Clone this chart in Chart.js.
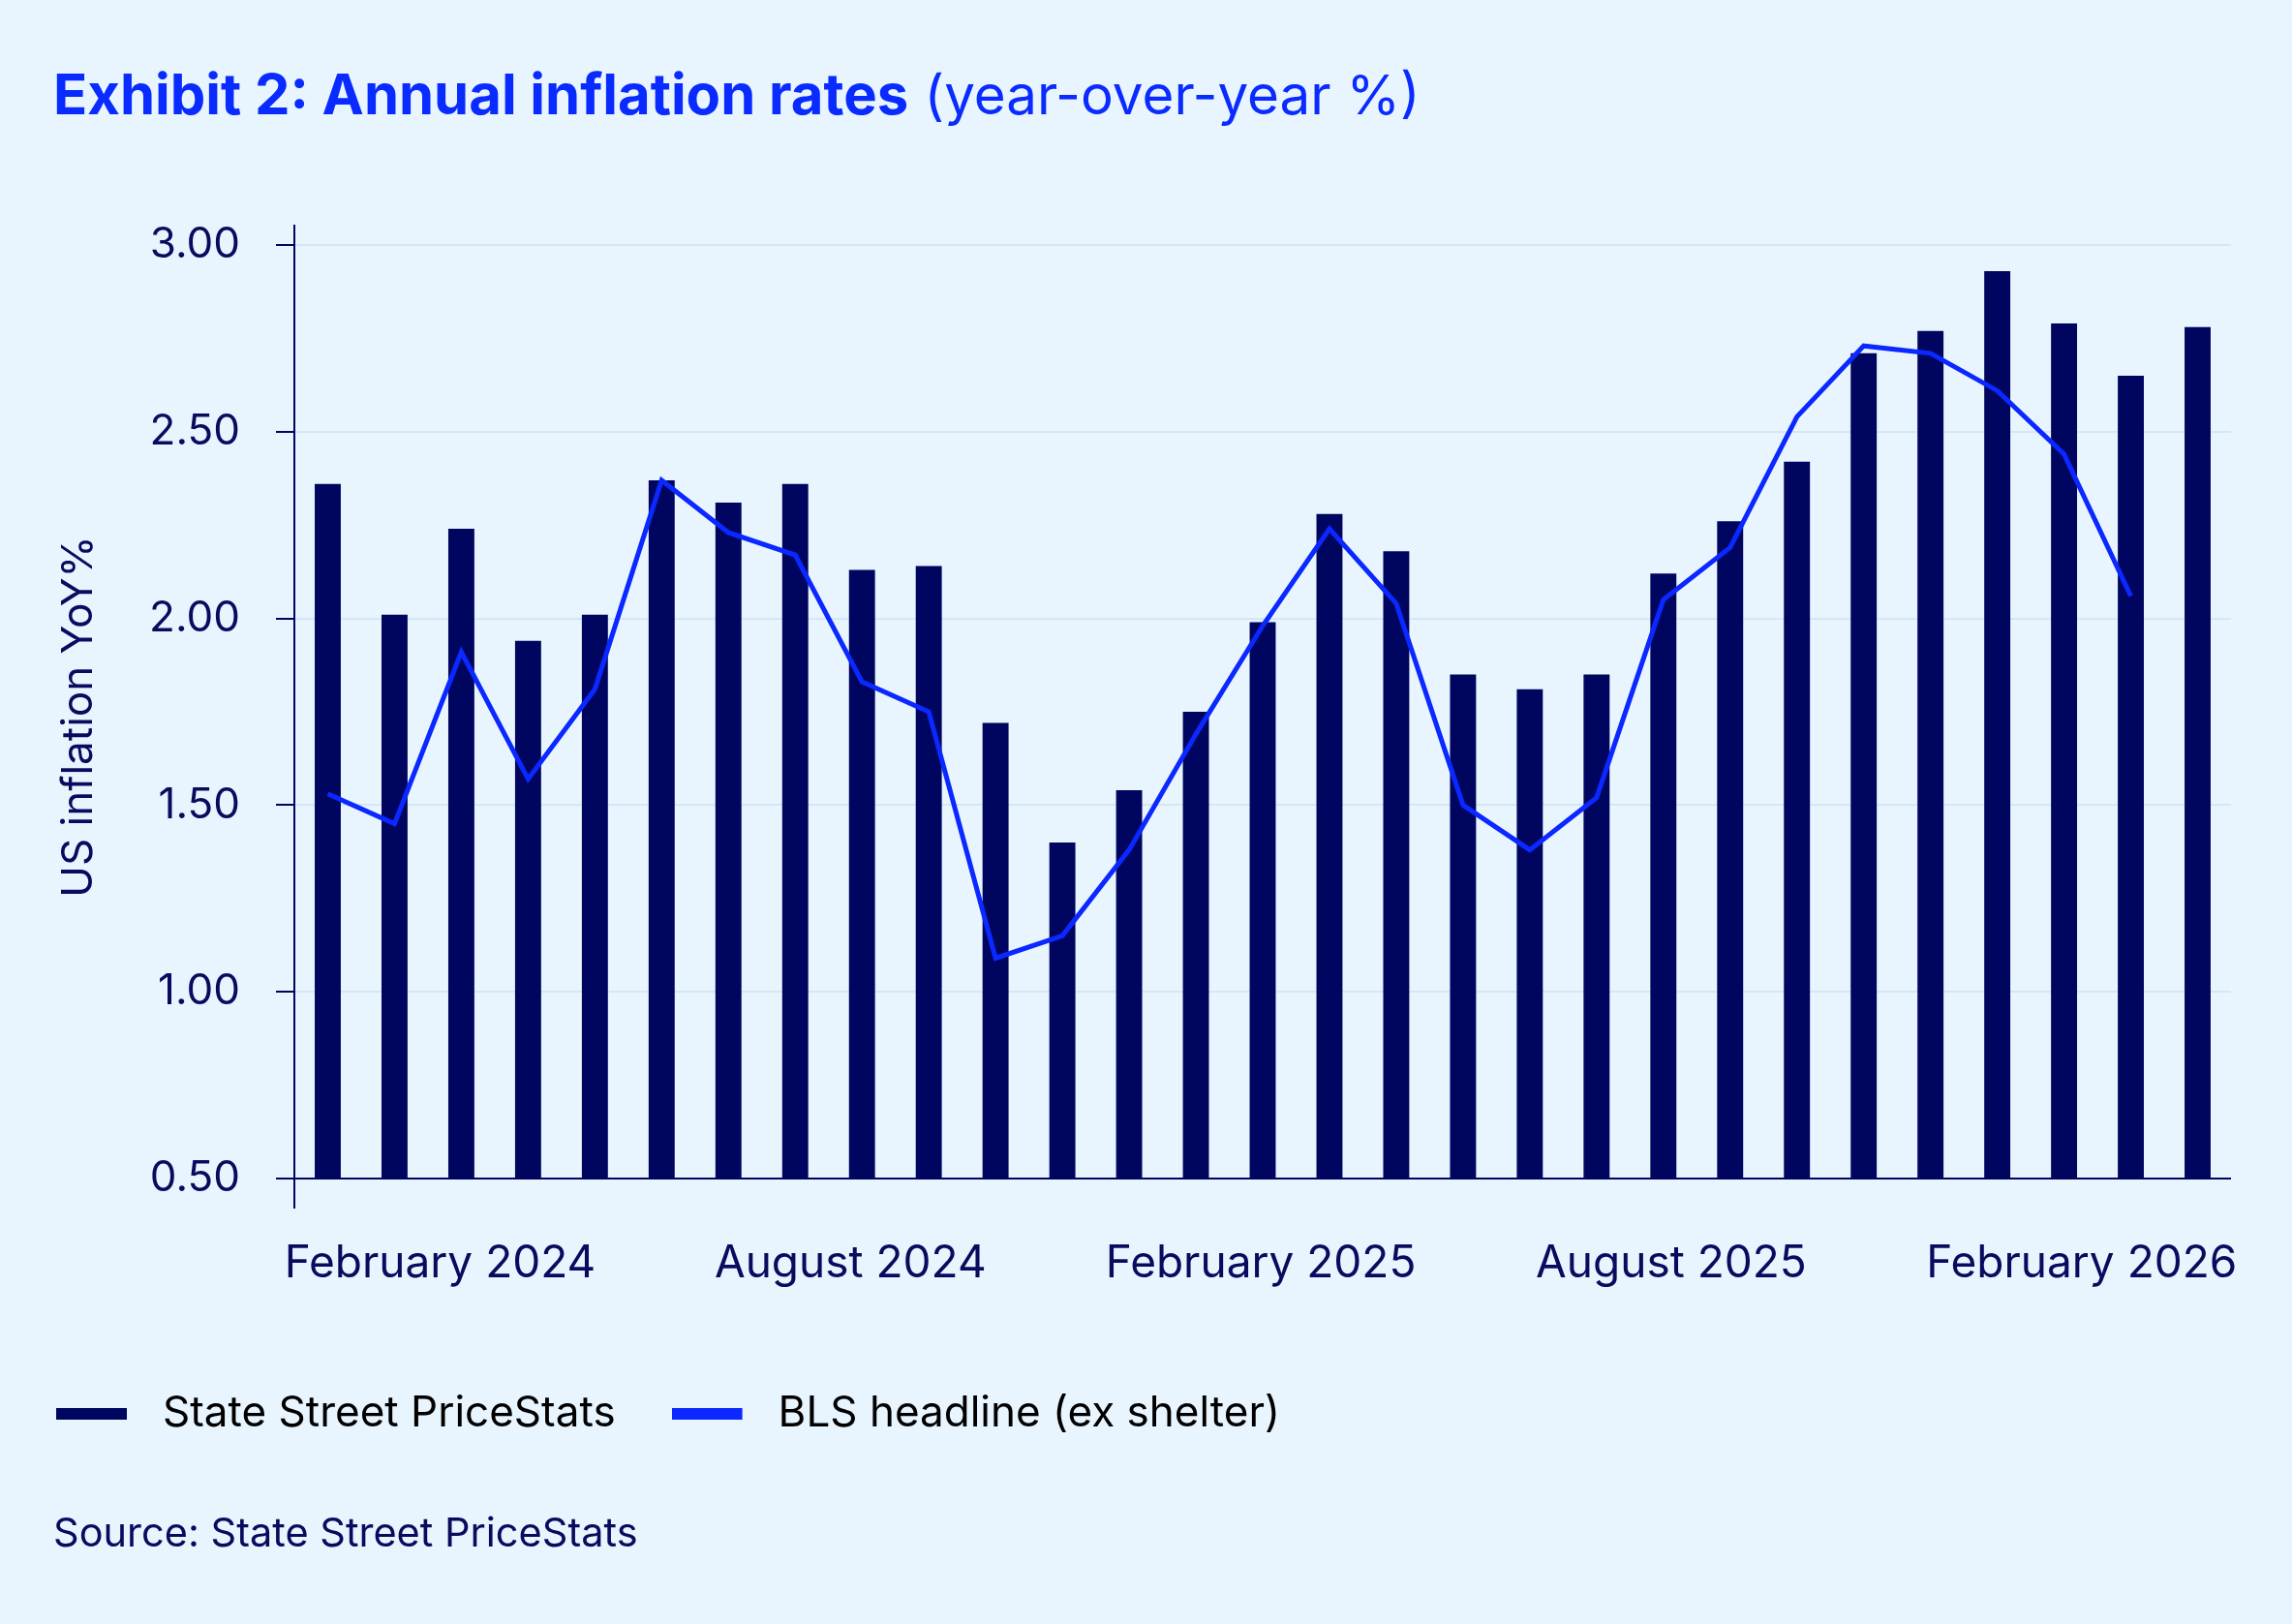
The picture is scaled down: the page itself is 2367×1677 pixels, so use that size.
<!DOCTYPE html>
<html>
<head>
<meta charset="utf-8">
<script src="https://cdn.jsdelivr.net/npm/chart.js@4.4.1/dist/chart.umd.min.js"></script>
<style>
  html, body { margin: 0; padding: 0; background: #e9f5fe; }
  #page { position: relative; width: 2367px; height: 1677px; overflow: hidden; font-family: Inter, sans-serif; }
  #chart { position: absolute; left: 0; top: 0; }
  .title { position: absolute; left: 55px; top: 68px; font-size: 58px; line-height: 1; color: #0a2bff; white-space: nowrap; }
  .title b { font-weight: 700; }
  .title span { font-size: 56.5px; }
  .source { position: absolute; left: 55px; top: 1562px; font-size: 41.5px; line-height: 1; color: #0a0a5e; white-space: nowrap; }
</style>
</head>
<body>
<div id="page">
  <canvas id="chart" width="2367" height="1677"></canvas>
  <div class="title"><b>Exhibit 2: Annual inflation rates</b> <span>(year-over-year %)</span></div>
  <div class="source">Source: State Street PriceStats</div>
</div>
<script>
// months from December 2023 to April 2026
var months = [
  "December 2023", "January 2024", "February 2024", "March 2024", "April 2024",
  "May 2024", "June 2024", "July 2024", "August 2024", "September 2024",
  "October 2024", "November 2024", "December 2024", "January 2025", "February 2025",
  "March 2025", "April 2025", "May 2025", "June 2025", "July 2025",
  "August 2025", "September 2025", "October 2025", "November 2025", "December 2025",
  "January 2026", "February 2026", "March 2026", "April 2026"
];

// State Street PriceStats (bars)
var pricestats = [
  2.36, 2.01, 2.24, 1.94, 2.01, 2.37, 2.31, 2.36, 2.13, 2.14,
  1.72, 1.40, 1.54, 1.75, 1.99, 2.28, 2.18, 1.85, 1.81, 1.85,
  2.12, 2.26, 2.42, 2.71, 2.77, 2.93, 2.79, 2.65, 2.78
];

// BLS headline ex shelter (line), no value yet for the last month
var bls = [
  1.53, 1.45, 1.91, 1.57, 1.81, 2.37, 2.23, 2.17, 1.83, 1.75,
  1.09, 1.15, 1.38, 1.69, 1.98, 2.24, 2.04, 1.50, 1.38, 1.52,
  2.05, 2.19, 2.54, 2.73, 2.71, 2.61, 2.44, 2.06, null
];

var yTicks = [0.5, 1.0, 1.5, 2.0, 2.5, 3.0];
var xTickLabels = ["February 2024", "August 2024", "February 2025", "August 2025", "February 2026"];

var navy = "#000660";
var blue = "#0a28ff";
var textColor = "#0a0a5e";
var gridColor = "#d3e7f7";

// legend marker: a short thick bar with some empty room after it
function legend_marker(color) {
  var c = document.createElement("canvas");
  c.width = 88;
  c.height = 12;
  var g = c.getContext("2d");
  g.fillStyle = color;
  g.fillRect(0, 0, 73, 12);
  return c;
}

function draw_chart() {
  Chart.defaults.font.family = "Inter";
  Chart.defaults.color = textColor;

  new Chart(document.getElementById("chart"), {
    type: "bar",
    data: {
      labels: months,
      datasets: [
        {
          type: "bar",
          label: "State Street PriceStats",
          data: pricestats,
          backgroundColor: navy,
          base: 0.5,
          barPercentage: 0.39,
          categoryPercentage: 1,
          order: 1
        },
        {
          type: "line",
          label: "BLS headline (ex shelter)",
          data: bls,
          borderColor: blue,
          backgroundColor: blue,
          borderWidth: 5,
          pointRadius: 0,
          tension: 0,
          order: 0
        }
      ]
    },
    options: {
      responsive: false,
      animation: false,
      devicePixelRatio: 1,
      layout: { padding: { top: 233, right: 63, bottom: 185, left: 0 } },
      plugins: {
        tooltip: { enabled: false },
        legend: {
          position: "bottom",
          align: "start",
          labels: {
            usePointStyle: true,
            pointStyleWidth: 88,
            boxHeight: 12,
            padding: 58,
            font: { size: 44 },
            color: textColor,
            sort: function (a, b) { return a.datasetIndex - b.datasetIndex; },
            generateLabels: function (c) {
              return c.data.datasets.map(function (ds, i) {
                var col = ds.type === "line" ? blue : navy;
                return {
                  text: ds.label,
                  fillStyle: col,
                  strokeStyle: col,
                  lineWidth: 0,
                  pointStyle: legend_marker(col),
                  datasetIndex: i
                };
              });
            }
          }
        }
      },
      scales: {
        // the months, used by bars and line, labels not drawn here
        x: {
          display: false
        },
        // the half-year labels, spread a bit wider than the bars as in the original
        xLabels: {
          type: "linear",
          position: "bottom",
          offset: false,
          min: -0.355,
          max: 4.364,
          grid: { display: false, drawTicks: false, offset: false },
          border: { display: false },
          afterFit: function (scale) { scale.height = 133; },
          afterBuildTicks: function (scale) {
            scale.ticks = xTickLabels.map(function (t, i) { return { value: i }; });
          },
          ticks: {
            maxRotation: 0,
            padding: 31,
            font: { size: 46 },
            color: textColor,
            callback: function (value) { return xTickLabels[value]; }
          }
        },
        y: {
          min: 0.422,
          max: 3.052,
          afterFit: function (scale) { scale.width = 304; },
          afterBuildTicks: function (scale) {
            scale.ticks = yTicks.map(function (v) { return { value: v }; });
          },
          grid: {
            color: function (ctx) {
              return ctx.tick && ctx.tick.value === 0.5 ? navy : gridColor;
            },
            lineWidth: 2,
            tickColor: navy,
            tickLength: 19,
            tickWidth: 2
          },
          border: { display: true, color: navy, width: 2 },
          title: {
            display: true,
            text: "US inflation YoY%",
            font: { size: 44 },
            color: textColor,
            padding: { top: 55, bottom: 0 }
          },
          ticks: {
            padding: 37,
            font: { size: 44 },
            color: textColor,
            callback: function (value) { return Number(value).toFixed(2); }
          }
        }
      }
    }
  });
}

document.fonts.load("44px Inter").then(draw_chart, draw_chart);
</script>
</body>
</html>
